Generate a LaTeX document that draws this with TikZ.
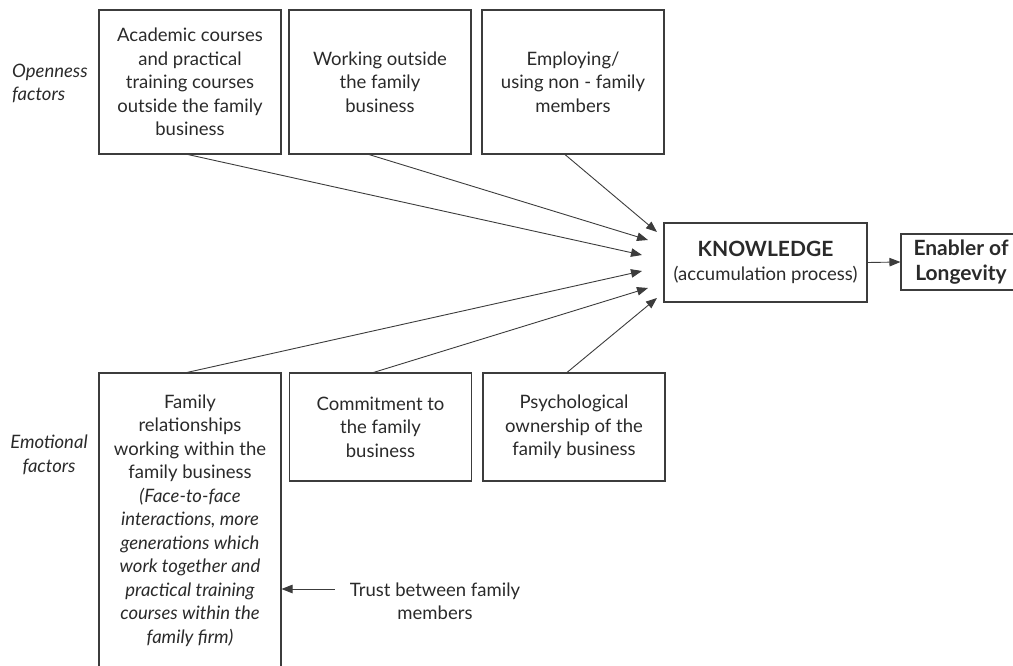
\documentclass[tikz,border=0pt]{standalone}
\usepackage{fontspec}
\setmainfont{Lato}
\usetikzlibrary{arrows.meta,calc}
\definecolor{ink}{HTML}{2A2A2A}
\definecolor{edge}{HTML}{3C3C3C}
\begin{document}
\begin{tikzpicture}[x=1pt,y=-1pt,
  txt/.style={font=\fontsize{18.5}{23.5}\selectfont, text=ink, align=center, inner sep=0pt},
  factorbox/.style={txt, draw=edge, line width=1.1pt, minimum width=182pt, minimum height=144pt},
  lowbox/.style={txt, draw=edge, line width=1.1pt, minimum width=182pt, minimum height=108pt},
  sidelabel/.style={font=\fontsize{18.5}{23.5}\selectfont\itshape, text=ink, inner sep=0pt},
  arr/.style={draw=edge, line width=0.9pt, -{Triangle[length=11pt,width=8.5pt]}}
]
\useasboundingbox (0,0) rectangle (1013,666);

% side labels
\node[sidelabel, align=left, anchor=west] (open) at (12,83.5) {Openness\\factors};
\node[sidelabel, align=center] (emo) at (49,455) {Emotional\\factors};

% openness factors
\node[factorbox] (acad) at (190,82) {Academic courses\\and practical\\training courses\\outside the family\\business};
\node[factorbox] (work) at (380,82) {Working outside\\the family\\business};
\node[factorbox] (empl) at (573,82) {Employing/\\using non - family\\members};

% knowledge and outcome
\node[txt, draw=edge, line width=1.1pt, minimum width=203pt, minimum height=79pt] (know) at (765.5,262.5)
  {{\bfseries\fontsize{21}{23.5}\selectfont KNOWLEDGE}\\(accumulation process)};
\node[txt, draw=edge, line width=1.1pt, minimum width=120pt, minimum height=56pt, font=\fontsize{21}{25}\selectfont\bfseries] (enab) at (961,262)
  {Enabler of\\Longevity};

% emotional factors
\node[txt, draw=edge, line width=1.1pt, minimum width=182pt, minimum height=295pt] (fam) at (190,520.5)
  {Family\\relationships\\working within the\\family business\\\itshape(Face-to-face\\\itshape interactions, more\\\itshape generations which\\\itshape work together and\\\itshape practical training\\\itshape courses within the\\\itshape family firm)};
\node[lowbox] (comm) at (380.5,427) {Commitment to\\the family\\business};
\node[lowbox] (psy) at (574,427) {Psychological\\ownership of the\\family business};

\node[txt] (trust) at (435,601.5) {Trust between family\\members};

% arrow tips along the knowledge box
\coordinate (t1) at (657,232);
\coordinate (t2) at (648,240);
\coordinate (t3) at (642,255);
\coordinate (t4) at (642,271);
\coordinate (t5) at (648,288);
\coordinate (t6) at (657,298);

\draw[arr] ([xshift=-2pt]acad.south) -- (t3);
\draw[arr] ([xshift=-11pt]work.south) -- (t2);
\draw[arr] ([xshift=-8pt]empl.south) -- (t1);
\draw[arr] ([xshift=-3pt]fam.north) -- (t4);
\draw[arr] ([xshift=-7pt]comm.north) -- (t5);
\draw[arr] ([xshift=-7pt]psy.north) -- (t6);

\draw[arr] (know.east) -- (enab.west);

\coordinate (ts) at ([xshift=-15pt,yshift=12.5pt]trust.west);
\draw[arr] (ts) -- (ts -| fam.east);
\end{tikzpicture}
\end{document}
